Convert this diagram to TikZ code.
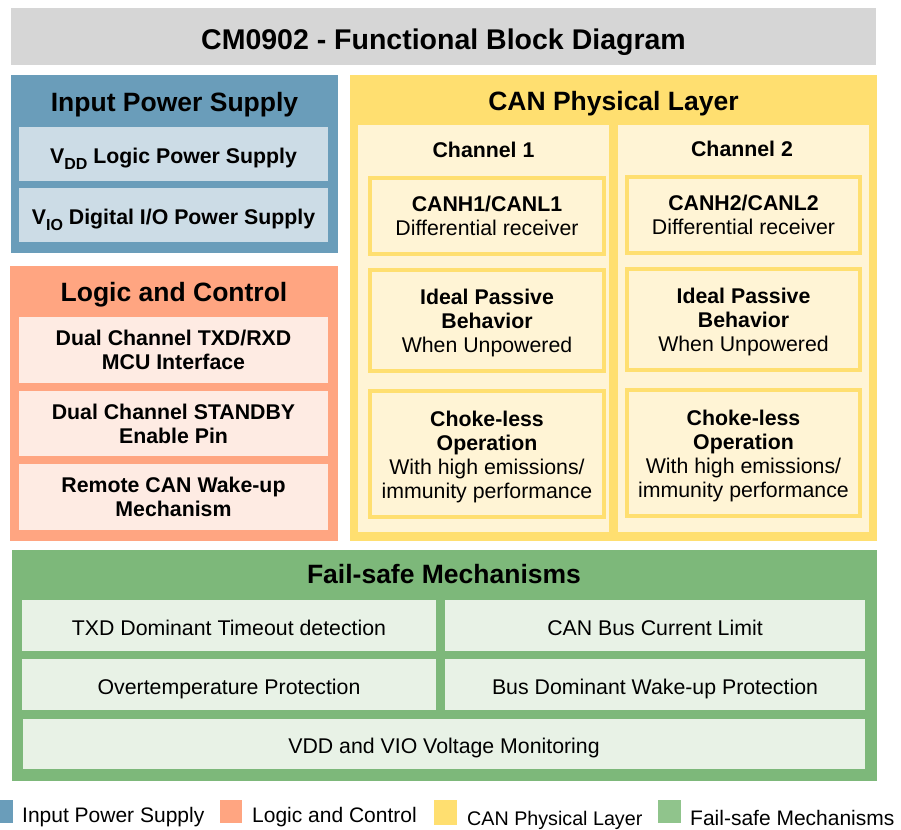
\documentclass[tikz,border=0pt]{standalone}
\usepackage{fontspec}
\setmainfont{Liberation Sans}
\definecolor{titlegray}{HTML}{D6D6D6}
\definecolor{ipsblue}{HTML}{6A9DBA}
\definecolor{ipslight}{HTML}{CCDCE6}
\definecolor{lcsalmon}{HTML}{FFA581}
\definecolor{lclight}{HTML}{FEEBE3}
\definecolor{canyellow}{HTML}{FFDF70}
\definecolor{cancream}{HTML}{FFF4D5}
\definecolor{fsgreen}{HTML}{7DB87A}
\definecolor{fslight}{HTML}{E8F2E6}
\definecolor{fslegend}{HTML}{90C48C}
\newcommand{\sz}[2]{\fontsize{#1}{#2}\selectfont}
\newcommand{\subDD}[1]{\raisebox{-0.28em}{\sz{16}{16}#1}}
\tikzset{
  area/.style={anchor=north west, inner sep=0pt, outer sep=0pt, draw=none},
  head/.style={inner sep=0pt, font=\sz{26.5}{30}\bfseries},
  btxt/.style={inner sep=0pt, align=center, font=\sz{21.3}{24}\bfseries},
  rtxt/.style={inner sep=0pt, align=center, font=\sz{21.3}{24}},
  canbox/.style={anchor=north west, inner sep=0pt, outer sep=0pt, draw=canyellow, line width=4pt, fill=cancream},
  legtxt/.style={anchor=west, inner sep=0pt, font=\sz{21}{24}}
}
\begin{document}
\begin{tikzpicture}[x=1pt, y=-1pt]
\useasboundingbox (0,0) rectangle (901,829);
% title
\node[area, fill=titlegray, minimum width=865pt, minimum height=57pt] (titlebar) at (11,8) {};
\node[inner sep=0pt, font=\sz{28.5}{32}\bfseries, yshift=-5.5pt] (title) at (titlebar.center) {CM0902 - Functional Block Diagram};
% Input power supply
\node[area, fill=ipsblue, minimum width=327pt, minimum height=178pt] (ips) at (11,75) {};
\node[head] (ipsh) at (174.5,105) {Input Power Supply};
\node[area, fill=ipslight, minimum width=309pt, minimum height=54pt] (vdd) at (19,127) {};
\node[btxt, yshift=-5pt] (vddt) at (vdd.center) {V\subDD{DD} Logic Power Supply};
\node[area, fill=ipslight, minimum width=309pt, minimum height=54pt] (vio) at (19,188) {};
\node[btxt, yshift=-5pt] (viot) at (vio.center) {V\subDD{IO} Digital I/O Power Supply};
% Logic and control
\node[area, fill=lcsalmon, minimum width=328pt, minimum height=275pt] (lc) at (10,266) {};
\node[head] (lch) at (174,295) {Logic and Control};
\node[area, fill=lclight, minimum width=309pt, minimum height=66pt] (lc1) at (19,317) {};
\node[btxt] (lc1t) at (lc1.center) {Dual Channel TXD/RXD\\MCU Interface};
\node[area, fill=lclight, minimum width=309pt, minimum height=65pt] (lc2) at (19,391) {};
\node[btxt] (lc2t) at (lc2.center) {Dual Channel STANDBY\\Enable Pin};
\node[area, fill=lclight, minimum width=309pt, minimum height=66pt] (lc3) at (19,464) {};
\node[btxt] (lc3t) at (lc3.center) {Remote CAN Wake-up\\Mechanism};
% CAN physical layer
\node[area, fill=canyellow, minimum width=527pt, minimum height=466pt] (can) at (350,75) {};
\node[head] (canh) at (613.5,104) {CAN Physical Layer};
\node[area, fill=cancream, minimum width=251pt, minimum height=407pt] (ch1) at (358,125) {};
\node[area, fill=cancream, minimum width=251pt, minimum height=407pt] (ch2) at (618,125) {};
\node[btxt] (ch1h) at (483.5,150) {Channel 1};
\node[btxt] (ch2h) at (742,149) {Channel 2};
\node[canbox, minimum width=234pt, minimum height=76pt] (c1a) at (370,178) {};
\node[rtxt] (c1at) at (c1a.center) {\textbf{CANH1/CANL1}\\Differential receiver};
\node[canbox, minimum width=234pt, minimum height=101pt] (c1b) at (370,270) {};
\node[rtxt, yshift=-2.5pt] (c1bt) at (c1b.center) {\textbf{Ideal Passive}\\\textbf{Behavior}\\When Unpowered};
\node[canbox, minimum width=234pt, minimum height=126pt] (c1c) at (370,391) {};
\node[rtxt, yshift=-2.5pt] (c1ct) at (c1c.center) {\textbf{Choke-less}\\\textbf{Operation}\\With high emissions/\\immunity performance};
\node[canbox, minimum width=233pt, minimum height=76pt] (c2a) at (627,177) {};
\node[rtxt] (c2at) at (c2a.center) {\textbf{CANH2/CANL2}\\Differential receiver};
\node[canbox, minimum width=233pt, minimum height=101pt] (c2b) at (627,269) {};
\node[rtxt, yshift=-2.5pt] (c2bt) at (c2b.center) {\textbf{Ideal Passive}\\\textbf{Behavior}\\When Unpowered};
\node[canbox, minimum width=233pt, minimum height=126pt] (c2c) at (627,390) {};
\node[rtxt, yshift=-2.5pt] (c2ct) at (c2c.center) {\textbf{Choke-less}\\\textbf{Operation}\\With high emissions/\\immunity performance};
% Fail-safe
\node[area, fill=fsgreen, minimum width=865pt, minimum height=231pt] (fs) at (12,550) {};
\node[head] (fsh) at (444,574) {Fail-safe Mechanisms};
\node[area, fill=fslight, minimum width=414pt, minimum height=51pt] (fs1) at (22,600) {};
\node[rtxt, yshift=-2.5pt] (fs1t) at (fs1.center) {TXD Dominant Timeout detection};
\node[area, fill=fslight, minimum width=420pt, minimum height=51pt] (fs2) at (445,600) {};
\node[rtxt, yshift=-2.5pt] (fs2t) at (fs2.center) {CAN Bus Current Limit};
\node[area, fill=fslight, minimum width=414pt, minimum height=51pt] (fs3) at (22,659) {};
\node[rtxt, yshift=-4pt] (fs3t) at (fs3.center) {Overtemperature Protection};
\node[area, fill=fslight, minimum width=420pt, minimum height=51pt] (fs4) at (445,659) {};
\node[rtxt, yshift=-4pt] (fs4t) at (fs4.center) {Bus Dominant Wake-up Protection};
\node[area, fill=fslight, minimum width=842pt, minimum height=50pt] (fs5) at (23,719) {};
\node[rtxt, yshift=-3.5pt] (fs5t) at (fs5.center) {VDD and VIO Voltage Monitoring};
% legend
\fill[ipsblue] (0,800) rectangle (13,823);
\node[legtxt] (l1) at (22,817.5) {Input Power Supply};
\fill[lcsalmon] (220,800) rectangle (242,823);
\node[legtxt] (l2) at (252,817.5) {Logic and Control};
\fill[canyellow] (434,800) rectangle (457,825);
\node[legtxt, font=\sz{19.7}{22}] (l3) at (467,820) {CAN Physical Layer};
\fill[fslegend] (658,800) rectangle (681,823);
\node[legtxt] (l4) at (690,817.5) {Fail-safe Mechanisms};
\end{tikzpicture}
\end{document}
